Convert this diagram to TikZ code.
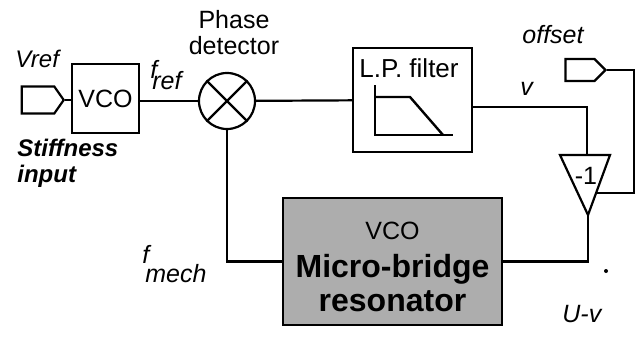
\documentclass[tikz,border=0pt]{standalone}
\usepackage{fontspec}
\setmainfont{Liberation Sans}
\usetikzlibrary{positioning,shapes.symbols}

\begin{document}
\begin{tikzpicture}[
    x=0.5pt, y=-0.5pt,
    block/.style={
        rectangle, draw=black, line width=1.1pt,
        inner sep=0pt, align=center,
        font=\fontsize{12.5}{15}\selectfont,
    },
    pin/.style={
        signal, signal to=east, draw=black, line width=1.1pt,
        inner sep=0pt,
    },
    wire/.style={line width=1.1pt, black},
    lbl/.style={font=\fontsize{12.5}{15}\selectfont\itshape, inner sep=0pt},
    txt/.style={font=\fontsize{12.5}{13}\selectfont, inner sep=0pt, align=center},
]
\useasboundingbox (0,0) rectangle (635,337);

% reference input and VCO
\node[pin, signal pointer angle=110, minimum width=21pt, minimum height=13.5pt] (vref) at (38,100) {};
\node[lbl, font=\fontsize{12}{13}\selectfont\itshape, anchor=base west] (vreflbl) at (15,67) {Vref};
\node[block, minimum width=33.5pt, minimum height=34.5pt] (vco) at (105.5,98.5) {VCO};
\node[lbl, anchor=base west] (freflbl) at (150,89) {\raisebox{5.5pt}{f}\kern-2.5pt ref};
\node[anchor=north west, inner sep=0pt, align=left,
      font=\fontsize{12}{13}\selectfont\bfseries\itshape] (stiff) at (17,139) {Stiffness\\input};

% phase detector
\node[circle, draw, line width=1.1pt, minimum size=28pt, inner sep=0pt] (pd) at (227,101) {};
\draw[wire] (pd.45) -- (pd.225) (pd.135) -- (pd.315);
\node[txt] (pdlbl) at (234,33) {Phase\\detector};

% low pass filter
\node[block, minimum width=59.5pt, minimum height=52pt] (lpf) at (412.5,100) {};
\node[txt, font=\fontsize{13}{15}\selectfont, anchor=base] (lpftitle) at (409,77) {L.P. filter};
\draw[line width=1.2pt] (375,85) |- (453,135);
\draw[line width=1.2pt] (375,97) -- (410,97) -- (443,135);

% offset input and inverter
\node[pin, signal pointer angle=90, minimum width=20pt, minimum height=11pt] (off) at (580,70) {};
\node[lbl, anchor=base west] (offlbl) at (522,43) {offset};
\node[lbl, anchor=base west] (vlbl) at (520,95) {v};
\coordinate (invtl) at (560,155);
\coordinate (invtr) at (610,155);
\coordinate (invtip) at (588,215);
\coordinate (invin) at (587,155);
\coordinate (invrt) at (597,193);
\draw[wire] (invtl) -- (invtr) -- (invtip) -- cycle;
\node[txt] (inv) at (586,176) {-1};

% resonator
\node[block, fill=black!32, minimum width=109.5pt, minimum height=63.5pt,
      font=\fontsize{16}{17}\selectfont\bfseries] (res) at (392.5,261.5)
    {\rule{0pt}{14pt}{\fontsize{12.5}{13}\selectfont\mdseries VCO}\\[2pt]Micro-bridge\\resonator};
\node[lbl, anchor=base west] (fmechlbl) at (142,282) {\raisebox{9.5pt}{f}\kern-2pt mech};
\node[lbl, anchor=base west] (uvlbl) at (562,322) {U-v};
\fill (606,271) circle (1pt);

% wires
\draw[wire] (vref) -- (vref -| vco.west);
\draw[wire] (vco.east |- pd) -- (pd);
\draw[wire] (pd) -- (lpf);
\draw[wire] ([yshift=-3.5pt]lpf.east) -| (invin);
\draw[wire] (off.east) -- ++(27,0) |- (invrt);
\draw[wire] (invtip) |- (res.east);
\draw[wire] (res.west) -| (pd.south);

\end{tikzpicture}
\end{document}
